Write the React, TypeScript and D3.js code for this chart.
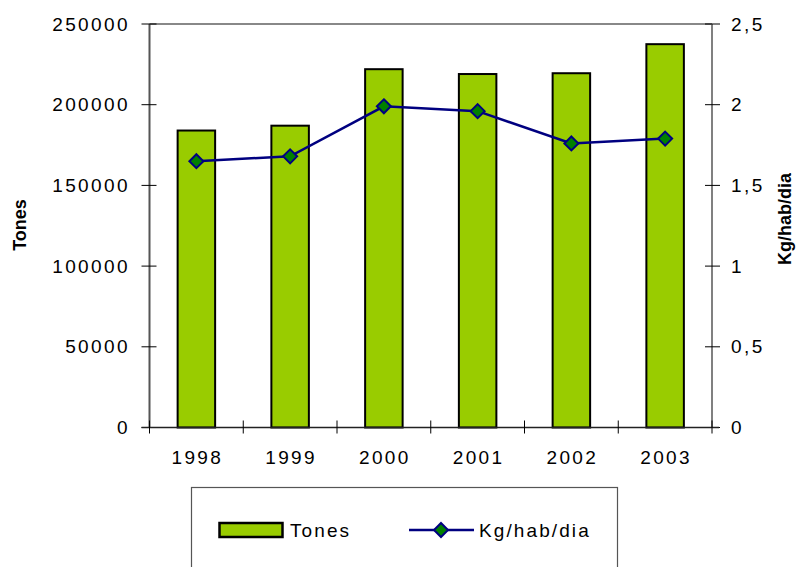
import { scaleBand, scaleLinear, line } from "d3";

const width = 797;
const height = 567;
const PLOT = { left: 149.5, right: 712, top: 24, bottom: 427.5 };

const years = ["1998", "1999", "2000", "2001", "2002", "2003"];
const tones = [184000, 187000, 222000, 219000, 219500, 237500];
const kgHabDia = [1.65, 1.68, 1.99, 1.96, 1.76, 1.79];
const leftTicks = [0, 50000, 100000, 150000, 200000, 250000];
const rightTicks = [0, 0.5, 1, 1.5, 2, 2.5];
const rightTickLabels = ["0", "0,5", "1", "1,5", "2", "2,5"];

const FONT = "Arial, 'Liberation Sans', sans-serif";
const BAR_FILL = "#99cc00";
const LINE_COLOR = "#000080";
const MARKER_FILL = "#008000";

function Diamond({ x, y, r }: { x: number; y: number; r: number }) {
  return (
    <path
      d={`M${x},${y - r}L${x + r},${y}L${x},${y + r}L${x - r},${y}Z`}
      fill={MARKER_FILL}
      stroke={LINE_COLOR}
      strokeWidth={2}
    />
  );
}

export default function App() {
  const xScale = scaleBand<string>()
    .domain(years)
    .range([PLOT.left, PLOT.right])
    .paddingInner(0.6)
    .paddingOuter(0.3);
  const step = xScale.step();
  const yLeft = scaleLinear().domain([0, 250000]).range([PLOT.bottom, PLOT.top]);
  const yRight = scaleLinear().domain([0, 2.5]).range([PLOT.bottom, PLOT.top]);

  const center = (d: string) => (xScale(d) ?? 0) + xScale.bandwidth() / 2;
  const lineData = years.map((y, i) => ({ year: y, v: kgHabDia[i] }));
  const linePath = line<{ year: string; v: number }>()
    .x((d) => center(d.year))
    .y((d) => yRight(d.v))(lineData);

  const catTicks = years.map((d) => center(d) - step / 2).concat([PLOT.right]);

  return (
    <svg
      width={width}
      height={height}
      style={{ position: "absolute", left: 0, top: 0, background: "#fff" }}
      fontFamily={FONT}
    >
      <rect width={width} height={height} fill="#fff" />

      {/* plot frame: top and right are grey */}
      <line x1={PLOT.left} x2={PLOT.right} y1={PLOT.top} y2={PLOT.top} stroke="#888" strokeWidth={2} />
      <line x1={PLOT.right} x2={PLOT.right} y1={PLOT.top} y2={PLOT.bottom} stroke="#808080" strokeWidth={2} />

      {/* bars */}
      {years.map((d, i) => (
        <rect
          key={d}
          x={xScale(d)}
          y={yLeft(tones[i])}
          width={xScale.bandwidth()}
          height={PLOT.bottom - yLeft(tones[i])}
          fill={BAR_FILL}
          stroke="#000"
          strokeWidth={2}
        />
      ))}

      {/* left axis */}
      <line x1={PLOT.left} x2={PLOT.left} y1={PLOT.top} y2={PLOT.bottom} stroke="#555" strokeWidth={2} />
      {leftTicks.map((t) => (
        <g key={t}>
          <line x1={PLOT.left - 8} x2={PLOT.left + 7} y1={yLeft(t)} y2={yLeft(t)} stroke="#000" strokeWidth={1} />
          <text
            x={130}
            y={yLeft(t)}
            dy="0.35em"
            textAnchor="end"
            fontSize={19}
            letterSpacing={2.4}
            fill="#000"
          >
            {t}
          </text>
        </g>
      ))}

      {/* right axis ticks */}
      {rightTicks.map((t, i) => (
        <g key={t}>
          <line x1={PLOT.right - 7} x2={PLOT.right + 8} y1={yRight(t)} y2={yRight(t)} stroke="#000" strokeWidth={1} />
          <text x={731} y={yRight(t)} dy="0.35em" fontSize={19} letterSpacing={2.4} fill="#000">
            {rightTickLabels[i]}
          </text>
        </g>
      ))}

      {/* x axis */}
      <line x1={PLOT.left - 8} x2={PLOT.right + 7} y1={PLOT.bottom} y2={PLOT.bottom} stroke="#222" strokeWidth={1.5} />
      {catTicks.map((x, i) => (
        <line key={i} x1={x} x2={x} y1={PLOT.bottom - 7} y2={PLOT.bottom + 6} stroke="#000" strokeWidth={1} />
      ))}
      {years.map((d) => (
        <text key={d} x={center(d) + 1} y={464} textAnchor="middle" fontSize={19} letterSpacing={2.4} fill="#000">
          {d}
        </text>
      ))}

      {/* line series */}
      <path d={linePath ?? ""} fill="none" stroke={LINE_COLOR} strokeWidth={2.5} />
      {lineData.map((d) => (
        <Diamond key={d.year} x={center(d.year)} y={yRight(d.v)} r={7} />
      ))}

      {/* axis titles */}
      <text
        transform="translate(26,225) rotate(-90)"
        textAnchor="middle"
        fontSize={18}
        fontWeight="bold"
        fill="#000"
      >
        Tones
      </text>
      <text
        transform="translate(791,219) rotate(-90)"
        textAnchor="middle"
        fontSize={18}
        fontWeight="bold"
        fill="#000"
      >
        Kg/hab/dia
      </text>

      {/* legend */}
      <rect x={191.5} y={487.5} width={426} height={100} fill="#fff" stroke="#555" strokeWidth={1.2} />
      <rect x={219.5} y={523} width={63} height={14} fill={BAR_FILL} stroke="#000" strokeWidth={2.5} />
      <text x={290} y={537} fontSize={19} letterSpacing={2.1} fill="#000">
        Tones
      </text>
      <line x1={409} x2={474} y1={530} y2={530} stroke={LINE_COLOR} strokeWidth={2.5} />
      <Diamond x={441} y={530} r={7} />
      <text x={479} y={537} fontSize={19} letterSpacing={2.1} fill="#000">
        Kg/hab/dia
      </text>
    </svg>
  );
}
